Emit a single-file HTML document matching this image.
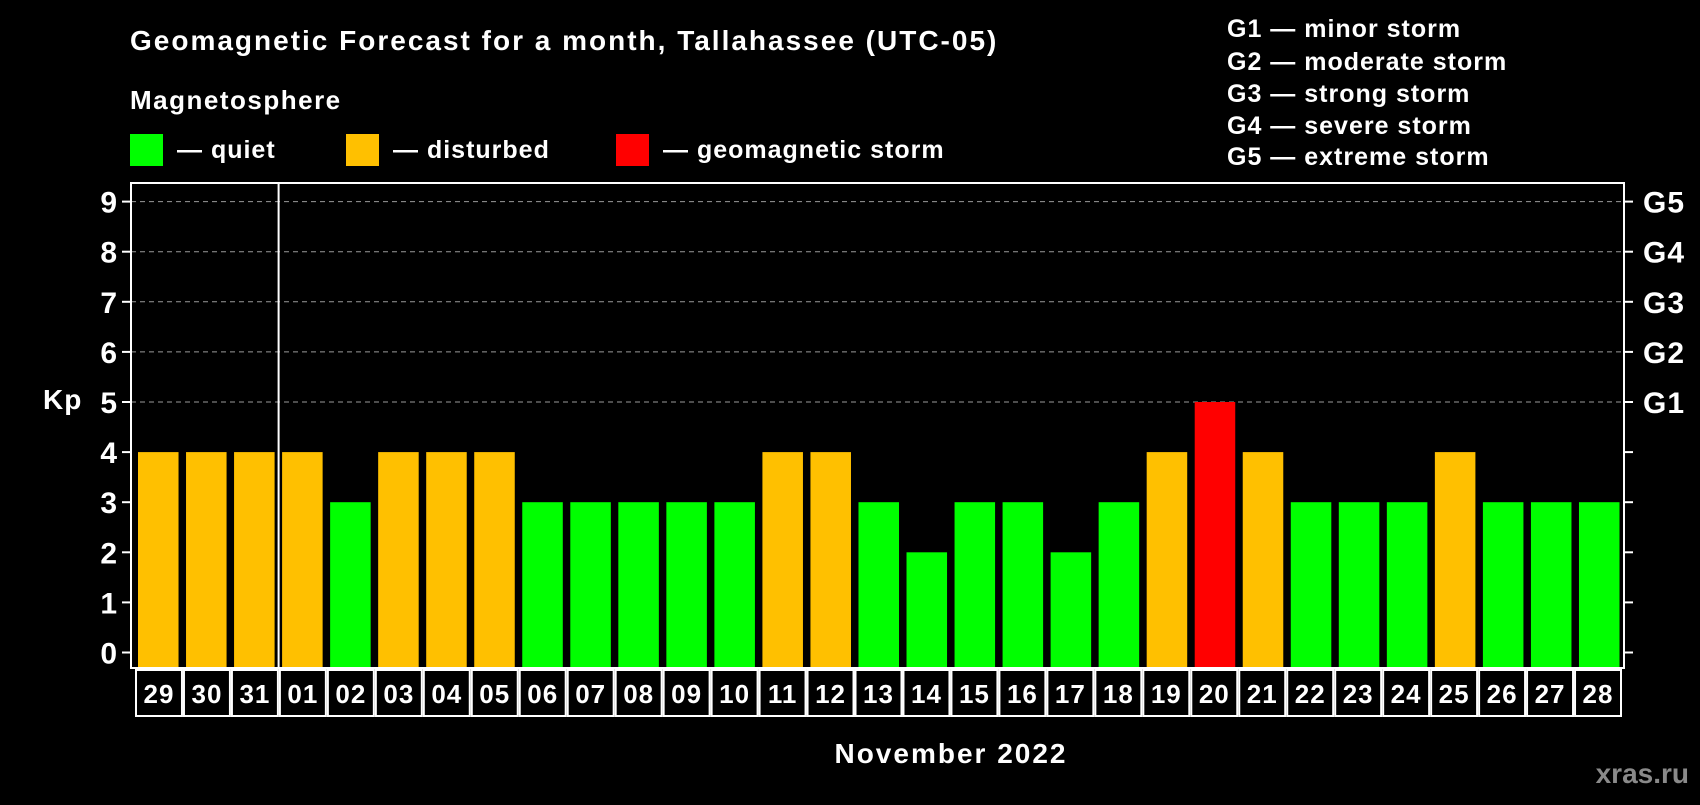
<!DOCTYPE html>
<html><head><meta charset="utf-8"><style>
html,body{margin:0;padding:0;background:#000;}
svg text{font-family:"Liberation Sans",Arial,sans-serif;font-weight:bold;fill:#fff;}
</style></head><body>
<svg id="chart" width="1700" height="800" xmlns="http://www.w3.org/2000/svg">
<rect width="1700" height="800" fill="#000"/>
<text x="130" y="50" font-size="28" letter-spacing="2">Geomagnetic Forecast for a month, Tallahassee (UTC-05)</text>
<text x="130" y="109" font-size="26" letter-spacing="1.5">Magnetosphere</text>
<rect x="130" y="134" width="33" height="32" fill="#00ff00"/>
<text x="177" y="158" font-size="25" letter-spacing="1">— quiet</text>
<rect x="346" y="134" width="33" height="32" fill="#ffc000"/>
<text x="393" y="158" font-size="25" letter-spacing="1">— disturbed</text>
<rect x="616" y="134" width="33" height="32" fill="#ff0000"/>
<text x="663" y="158" font-size="25" letter-spacing="1">— geomagnetic storm</text>
<g font-size="25" letter-spacing="1">
<text x="1227" y="37">G1 — minor storm</text>
<text x="1227" y="70">G2 — moderate storm</text>
<text x="1227" y="102">G3 — strong storm</text>
<text x="1227" y="134">G4 — severe storm</text>
<text x="1227" y="165">G5 — extreme storm</text>
</g>
<text x="43" y="409" font-size="28" letter-spacing="1">Kp</text>
<text x="951" y="763" font-size="28" letter-spacing="2" text-anchor="middle">November 2022</text>
<text x="1689" y="783" font-size="28" text-anchor="end" style="fill:#8a8a8a">xras.ru</text>
<g id="plot"></g>
</svg>
<script>
const days = ["29","30","31","01","02","03","04","05","06","07","08","09","10","11","12","13","14","15","16","17","18","19","20","21","22","23","24","25","26","27","28"];
const kpValues = [4,4,4,4,3,4,4,4,3,3,3,3,3,4,4,3,2,3,3,2,3,4,5,4,3,3,3,4,3,3,3];
const yTicks = [0,1,2,3,4,5,6,7,8,9];
const gLabels = ["G1","G2","G3","G4","G5"];
const gLevels = [5,6,7,8,9];

const NS="http://www.w3.org/2000/svg";
const g=document.getElementById('plot');
const L=131,R=1624,T=183,B=668,Y0=652.5,UNIT=50.1;
const n=days.length;
const slot=(R-L-4)/n;
const y=v=>Y0-v*UNIT;
const x=i=>L+6+i*slot;
function mk(tag,attrs){const e=document.createElementNS(NS,tag);for(const k in attrs)e.setAttribute(k,attrs[k]);g.appendChild(e);return e;}
gLevels.forEach(v=>{
  const e=mk('line',{x1:L,x2:R,y1:y(v),y2:y(v),stroke:'#9a9a9a','stroke-width':1,'stroke-dasharray':'5,4'});
  
  
});
kpValues.forEach((v,i)=>{
  const c=v>=5?'#ff0000':(v>=4?'#ffc000':'#00ff00');
  const e=mk('rect',{x:x(i)+1,y:y(v),width:slot-7.5,height:B-y(v),fill:c});
  
  
});
const fr=mk('rect',{x:L,y:T,width:R-L,height:B-T,fill:'none',stroke:'#fff','stroke-width':2});


const sep=mk('line',{x1:x(3)-2.5,x2:x(3)-2.5,y1:T,y2:B,stroke:'#fff','stroke-width':2});


yTicks.forEach(v=>{
  const t1=mk('line',{x1:L-9,x2:L,y1:y(v),y2:y(v),stroke:'#fff','stroke-width':2});
  
  
  const t2=mk('line',{x1:R,x2:R+9,y1:y(v),y2:y(v),stroke:'#fff','stroke-width':2});
  
  
  const tx=mk('text',{x:L-14,y:y(v)+11,'font-size':30,'text-anchor':'end'});
  tx.textContent=v;
  
  
});
gLevels.forEach((v,i)=>{
  const tx=mk('text',{x:R+19,y:y(v)+11,'font-size':30,'letter-spacing':1});
  tx.textContent=gLabels[i];
  
  
});
days.forEach((d,i)=>{
  const w=(1622-135)/n, cx=135+i*w;
  const r=mk('rect',{x:cx+1,y:670,width:w-2,height:46,fill:'none',stroke:'#fff','stroke-width':2});
  
  
  const tx=mk('text',{x:cx+w/2,y:703,'font-size':26,'letter-spacing':1,'text-anchor':'middle'});
  tx.textContent=d;
  
  
});
</script>
</body></html>
